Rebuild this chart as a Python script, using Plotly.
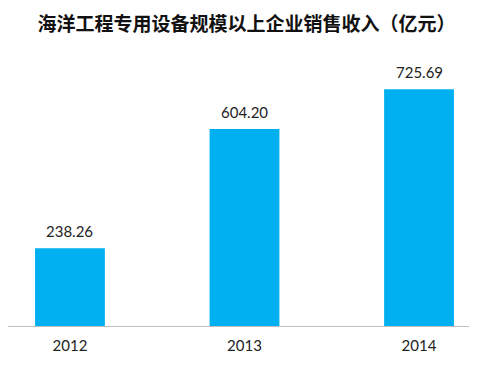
import plotly.graph_objects as go

years = ["2012", "2013", "2014"]
revenue = [238.26, 604.20, 725.69]
title_text = "海洋工程专用设备规模以上企业销售收入（亿元）"
bar_color = "#00B0F0"

fig = go.Figure()
fig.add_trace(go.Bar(
    x=years, y=revenue, width=0.40, marker=dict(color=bar_color, line=dict(width=0)),
    hoverinfo="skip",
))
for i, v in enumerate(revenue):
    fig.add_annotation(x=i, y=v, text=f"{v:.2f}", showarrow=False,
                       yanchor="bottom", yshift=6,
                       font=dict(family="Lato, Liberation Sans, sans-serif", size=15, color="#222222"))

fig.update_layout(
    width=477, height=373,
    margin=dict(l=0, r=0, t=57, b=55),
    paper_bgcolor="white", plot_bgcolor="white",
    showlegend=False,
    title=dict(text=f"<b>{title_text}</b>", x=0.5, xanchor="center", y=0.957, yanchor="middle",
               font=dict(family="Noto Sans CJK SC", size=19, color="#111111")),
    xaxis=dict(type="category", range=[-0.355, 2.378], showgrid=False,
               showline=True, linecolor="#BFBFBF", linewidth=1, ticks="",
               ticklabelstandoff=6,
               tickfont=dict(family="Lato, Liberation Sans, sans-serif", size=15, color="#222222")),
    yaxis=dict(range=[0, 800], visible=False, showgrid=False, zeroline=False),
)

fig.write_html("out.html")
